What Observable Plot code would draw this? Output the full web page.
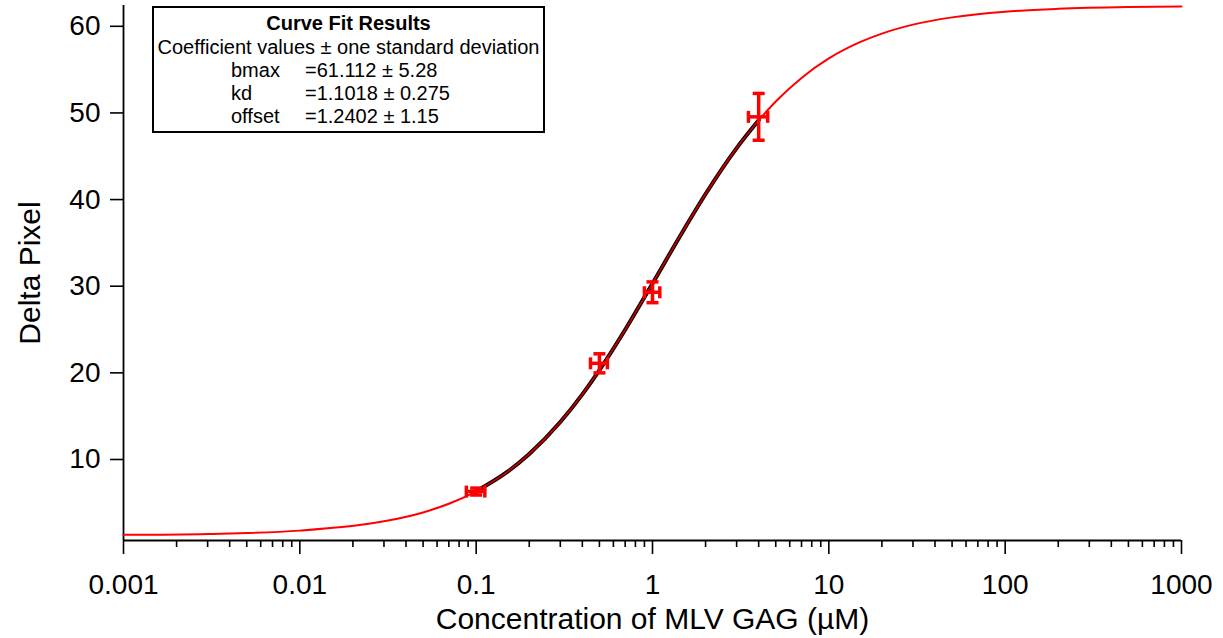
<!DOCTYPE html>
<html>
<head>
<meta charset="utf-8">
<script src="https://cdn.jsdelivr.net/npm/d3@7"></script>
<script src="https://cdn.jsdelivr.net/npm/@observablehq/plot@0.6"></script>
<style>
  html, body { margin: 0; padding: 0; background: #fff; }
  #wrap { position: relative; width: 1223px; height: 638px; font-family: "Liberation Sans", Arial, sans-serif; }
  #legend { position: absolute; left: 152px; top: 6px; width: 389px; height: 123px; border: 2px solid #000; background: #fff; font-size: 20px; color: #000; }
  #legend .row { position: absolute; white-space: nowrap; line-height: 23px; }
</style>
</head>
<body>
<div id="wrap"></div>
<script>
// ---- data ----
const concentration = [0.1, 0.5, 1, 4];               // µM
const deltaPixel    = [6.3, 21.1, 29.3, 49.55];
const yError        = [0.4, 1.1, 1.2, 2.7];
const xError        = [0.012, 0.055, 0.1, 0.5];

// fitted curve
const curveX = [0.001, 0.003, 0.01, 0.03, 0.05, 0.07, 0.1, 0.15, 0.2, 0.3, 0.4, 0.5, 0.7, 1, 1.5, 2, 3, 4, 5, 7, 10, 15, 20, 30, 50, 100, 200, 500, 1000];
const curveY = [1.30, 1.41, 1.79, 2.86, 3.89, 4.89, 6.33, 8.56, 10.63, 14.32, 17.52, 20.32, 24.98, 30.32, 36.47, 40.64, 45.94, 49.15, 51.32, 54.04, 56.29, 58.17, 59.16, 60.19, 61.03, 61.69, 62.02, 62.22, 62.28];

const xMajorTicks = [0.001, 0.01, 0.1, 1, 10, 100, 1000];
const xTickLabels = ["0.001", "0.01", "0.1", "1", "10", "100", "1000"];
const yTicks = [10, 20, 30, 40, 50, 60];

const legendTitle = "Curve Fit Results";
const legendSubtitle = "Coefficient values ± one standard deviation";
const coefNames  = ["bmax", "kd", "offset"];
const coefValues = ["=61.112 ± 5.28", "=1.1018 ± 0.275", "=1.2402 ± 1.15"];

const xLabel = "Concentration of MLV GAG (µM)";
const yLabel = "Delta Pixel";

// ---- build ----
const points = concentration.map((x, i) => ({x, y: deltaPixel[i], ey: yError[i], ex: xError[i]}));
const curve = curveX.map((x, i) => ({x, y: curveY[i]}));
const fitRange = curve.filter(d => d.x >= 0.1 && d.x <= 4);
const minorTicks = [];
for (let i = 0; i < xMajorTicks.length - 1; i++) for (let k = 2; k <= 9; k++) minorTicks.push(xMajorTicks[i] * k);

const hCap = {draw(ctx, size) { const w = Math.sqrt(size / Math.PI); ctx.moveTo(-w, 0); ctx.lineTo(w, 0); }};
const vCap = {draw(ctx, size) { const w = Math.sqrt(size / Math.PI); ctx.moveTo(0, -w); ctx.lineTo(0, w); }};

const yMin = 0.65, yMax = 62.4;
const red = "#ff0000";

const chart = Plot.plot({
  width: 1223,
  height: 638,
  marginLeft: 123,
  marginRight: 42,
  marginTop: 5,
  marginBottom: 98,
  style: {fontFamily: '"Liberation Sans", Arial, sans-serif', background: "transparent", overflow: "visible"},
  x: {type: "log", domain: [0.001, 1000]},
  y: {domain: [yMin, yMax]},
  marks: [
    Plot.axisX({ticks: minorTicks, tickSize: 7, tickFormat: () => "", strokeWidth: 1.6, label: null}),
    Plot.axisX({ticks: xMajorTicks, tickSize: 14, tickPadding: 20, tickFormat: (d) => xTickLabels[xMajorTicks.indexOf(d)], fontSize: 28, strokeWidth: 1.6, label: null, fill: "#000"}),
    Plot.axisY({ticks: yTicks, tickSize: 13, tickPadding: 10, fontSize: 28, strokeWidth: 1.6, label: null, fill: "#000"}),
    Plot.ruleX([0.001], {stroke: "#000", strokeWidth: 1.8}),
    Plot.ruleY([yMin], {stroke: "#000", strokeWidth: 1.8}),
    Plot.text([xLabel], {text: d => d, frameAnchor: "bottom", textAnchor: "middle", dy: 88, fontSize: 30, fill: "#000"}),
    Plot.text([yLabel], {text: d => d, frameAnchor: "left", textAnchor: "middle", rotate: -90, dx: -93, fontSize: 30, fill: "#000"}),
    Plot.line(curve, {x: "x", y: "y", stroke: red, strokeWidth: 2, curve: "monotone-x"}),
    Plot.line(fitRange, {x: "x", y: "y", stroke: "#000", strokeWidth: 4, curve: "monotone-x"}),
    Plot.line(fitRange, {x: "x", y: "y", stroke: "#c00000", strokeWidth: 1.8, curve: "monotone-x"}),
    // error bars
    Plot.ruleX(points, {x: "x", y1: d => d.y - d.ey, y2: d => d.y + d.ey, stroke: red, strokeWidth: 3.5}),
    Plot.ruleY(points, {y: "y", x1: d => d.x - d.ex, x2: d => d.x + d.ex, stroke: red, strokeWidth: 3.5}),
    Plot.dot(points, {x: "x", y: d => d.y - d.ey, symbol: hCap, r: 6, stroke: red, strokeWidth: 3.5}),
    Plot.dot(points, {x: "x", y: d => d.y + d.ey, symbol: hCap, r: 6, stroke: red, strokeWidth: 3.5}),
    Plot.dot(points, {x: d => d.x - d.ex, y: "y", symbol: vCap, r: 6, stroke: red, strokeWidth: 3.5}),
    Plot.dot(points, {x: d => d.x + d.ex, y: "y", symbol: vCap, r: 6, stroke: red, strokeWidth: 3.5})
  ]
});

const wrap = document.getElementById("wrap");
wrap.appendChild(chart);

// legend box
const legend = document.createElement("div");
legend.id = "legend";
const addRow = (text, left, top, extra) => {
  const el = document.createElement("div");
  el.className = "row";
  el.textContent = text;
  el.style.top = top + "px";
  if (left === "center") { el.style.left = "0"; el.style.width = "100%"; el.style.textAlign = "center"; }
  else el.style.left = left + "px";
  if (extra) Object.assign(el.style, extra);
  legend.appendChild(el);
};
addRow(legendTitle, "center", 4, {fontWeight: "bold"});
addRow(legendSubtitle, "center", 28);
coefNames.forEach((n, i) => {
  addRow(n, 77, 51 + i * 23);
  addRow(coefValues[i], 151, 51 + i * 23);
});
wrap.appendChild(legend);
</script>
</body>
</html>
